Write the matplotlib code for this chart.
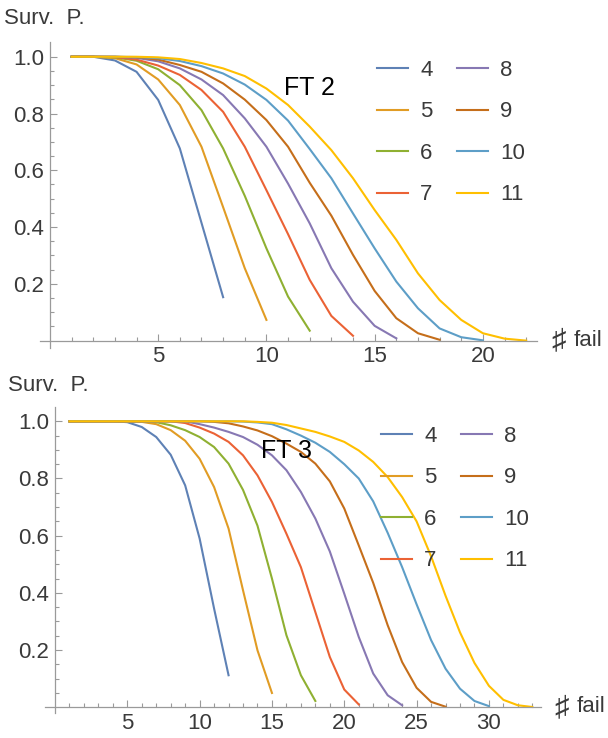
import numpy as np
import matplotlib.pyplot as plt
from matplotlib.ticker import FixedLocator

plt.rcParams['font.family'] = ['Liberation Sans', 'DejaVu Sans']

W, H = 608, 738

sizes = [4, 5, 6, 7, 8, 9, 10, 11]
colors = ['#5E81B5', '#E19C24', '#8FB032', '#EB6235',
          '#8778B3', '#C56E1A', '#5D9EC7', '#FFBF00']

# FT 2: survival probability after 1 .. 2n failures
ft2_4 = [1.0, 1.0, 0.987, 0.947, 0.848, 0.677, 0.415, 0.153]
ft2_5 = [1.0, 1.0, 0.995, 0.973, 0.92, 0.83, 0.683, 0.47, 0.255, 0.073]
ft2_6 = [1.0, 1.0, 0.998, 0.986, 0.956, 0.9, 0.812, 0.677, 0.51, 0.325,
         0.155, 0.035]
ft2_7 = [1.0, 1.0, 0.999, 0.99, 0.969, 0.936, 0.883, 0.806, 0.683, 0.53,
         0.375, 0.214, 0.087, 0.017]
ft2_8 = [1.0, 1.0, 1.0, 0.996, 0.984, 0.959, 0.92, 0.865, 0.783, 0.683,
         0.553, 0.413, 0.255, 0.137, 0.052, 0.008]
ft2_9 = [1.0, 1.0, 1.0, 0.998, 0.99, 0.971, 0.947, 0.906, 0.849, 0.777,
         0.683, 0.556, 0.44, 0.302, 0.175, 0.079, 0.026, 0.003]
ft2_10 = [1.0, 1.0, 1.0, 0.999, 0.995, 0.985, 0.967, 0.941, 0.902, 0.848,
          0.775, 0.675, 0.572, 0.448, 0.325, 0.208, 0.114, 0.043, 0.012,
          0.001]
ft2_11 = [1.0, 1.0, 1.0, 1.0, 0.998, 0.992, 0.978, 0.959, 0.932, 0.888,
          0.83, 0.754, 0.671, 0.572, 0.46, 0.355, 0.237, 0.143, 0.073,
          0.026, 0.007, 0.0]

# FT 3: survival probability after 1 .. 3n failures
ft3_4 = [1.0, 1.0, 1.0, 1.0, 0.997, 0.98, 0.945, 0.883, 0.776, 0.59,
         0.345, 0.112]
ft3_5 = [1.0, 1.0, 1.0, 1.0, 1.0, 0.998, 0.99, 0.969, 0.932, 0.869,
         0.77, 0.625, 0.409, 0.199, 0.05]
ft3_6 = [1.0, 1.0, 1.0, 1.0, 1.0, 1.0, 0.997, 0.986, 0.969, 0.945,
         0.91, 0.852, 0.76, 0.635, 0.45, 0.252, 0.112, 0.022]
ft3_7 = [1.0, 1.0, 1.0, 1.0, 1.0, 1.0, 1.0, 1.0, 0.994, 0.978,
         0.957, 0.928, 0.881, 0.811, 0.718, 0.607, 0.49, 0.333, 0.176,
         0.062, 0.01]
ft3_8 = [1.0, 1.0, 1.0, 1.0, 1.0, 1.0, 1.0, 1.0, 1.0, 0.99,
         0.978, 0.963, 0.945, 0.918, 0.881, 0.829, 0.753, 0.66, 0.545,
         0.397, 0.246, 0.118, 0.042, 0.007]
ft3_9 = [1.0, 1.0, 1.0, 1.0, 1.0, 1.0, 1.0, 1.0, 1.0, 1.0,
         0.998, 0.993, 0.982, 0.968, 0.948, 0.922, 0.893, 0.852, 0.79,
         0.695, 0.566, 0.435, 0.287, 0.158, 0.068, 0.019, 0.002]
ft3_10 = [1.0, 1.0, 1.0, 1.0, 1.0, 1.0, 1.0, 1.0, 1.0, 1.0,
          1.0, 1.0, 0.999, 0.996, 0.99, 0.972, 0.95, 0.925, 0.893,
          0.85, 0.8, 0.72, 0.61, 0.49, 0.36, 0.235, 0.135, 0.065,
          0.022, 0.004]
ft3_11 = [1.0, 1.0, 1.0, 1.0, 1.0, 1.0, 1.0, 1.0, 1.0, 1.0,
          1.0, 1.0, 1.0, 0.998, 0.995, 0.987, 0.975, 0.963, 0.947,
          0.928, 0.898, 0.858, 0.805, 0.735, 0.65, 0.528, 0.39, 0.262,
          0.155, 0.075, 0.026, 0.007, 0.001]

ft2_curves = [ft2_4, ft2_5, ft2_6, ft2_7, ft2_8, ft2_9, ft2_10, ft2_11]
ft3_curves = [ft3_4, ft3_5, ft3_6, ft3_7, ft3_8, ft3_9, ft3_10, ft3_11]

AXIS_GRAY = '#9a9a9a'
LABEL_GRAY = '#3a3a3a'
FS = 16


def px_rect(x0, y0, x1, y1):
    # pixel box (top-left origin) -> figure fraction rect
    return [x0 / W, 1 - y1 / H, (x1 - x0) / W, (y1 - y0) / H]


def fig_text(x, y, s, **kw):
    fig.text(x / W, 1 - y / H, s, color=LABEL_GRAY, va='center', ha='left', **kw)


def panel(rect, curves, xlim, ylim, xmax, tag, tag_xy, leg_xy, ylab_xy, xlab_xy):
    ax = fig.add_axes(rect)
    for vals, c, n in zip(curves, colors, sizes):
        k = np.arange(1, len(vals) + 1)
        ax.plot(k, vals, color=c, lw=1.5, label=str(n))

    ax.set_xlim(*xlim)
    ax.set_ylim(*ylim)
    for s in ['top', 'right']:
        ax.spines[s].set_visible(False)
    for s in ['left', 'bottom']:
        ax.spines[s].set_position(('data', 0))
        ax.spines[s].set_color(AXIS_GRAY)
        ax.spines[s].set_linewidth(0.9)

    ax.xaxis.set_major_locator(FixedLocator(list(range(5, xmax + 1, 5))))
    ax.xaxis.set_minor_locator(FixedLocator(list(range(1, xmax + 1))))
    ax.yaxis.set_major_locator(FixedLocator([0.2, 0.4, 0.6, 0.8, 1.0]))
    ax.yaxis.set_minor_locator(FixedLocator(list(np.arange(0.05, 1.0, 0.05))))
    ax.set_yticklabels(['0.2', '0.4', '0.6', '0.8', '1.0'])
    ax.tick_params(which='both', direction='in', color=AXIS_GRAY, width=0.8,
                   labelsize=FS, labelcolor=LABEL_GRAY)
    ax.tick_params(which='major', length=5)
    ax.tick_params(which='minor', length=3)
    ax.tick_params(axis='x', pad=4)
    ax.tick_params(axis='y', pad=4)

    ax.text(tag_xy[0], tag_xy[1], tag, fontsize=18, color='black',
            ha='center', va='center')

    ax.legend(ncol=2, frameon=False, fontsize=FS, loc='upper left',
              bbox_to_anchor=(leg_xy[0] / W, 1 - leg_xy[1] / H),
              bbox_transform=fig.transFigure, borderpad=0, borderaxespad=0,
              handlelength=1.4, handletextpad=0.55, columnspacing=1.1,
              labelspacing=0.92, labelcolor=LABEL_GRAY)

    fig_text(ylab_xy[0], ylab_xy[1], 'Surv.  P.', fontsize=FS)
    fig_text(xlab_xy[0], xlab_xy[1], '\u266f', fontsize=21)
    fig_text(xlab_xy[0] + 23, xlab_xy[1], 'fail', fontsize=FS)
    return ax


fig = plt.figure(figsize=(W / 100, H / 100), dpi=100)

panel(px_rect(40, 42, 537, 348), ft2_curves, (-0.46, 22.5), (-0.026, 1.052),
      22, 'FT 2', (12.0, 0.89), (377, 60), (4, 18), (551, 340))
panel(px_rect(45, 407, 541, 713), ft3_curves, (-0.69, 33.6), (-0.02, 1.05),
      33, 'FT 3', (16.0, 0.895), (381, 426), (8, 386), (554, 707))

fig.savefig('out.png', dpi=100)
